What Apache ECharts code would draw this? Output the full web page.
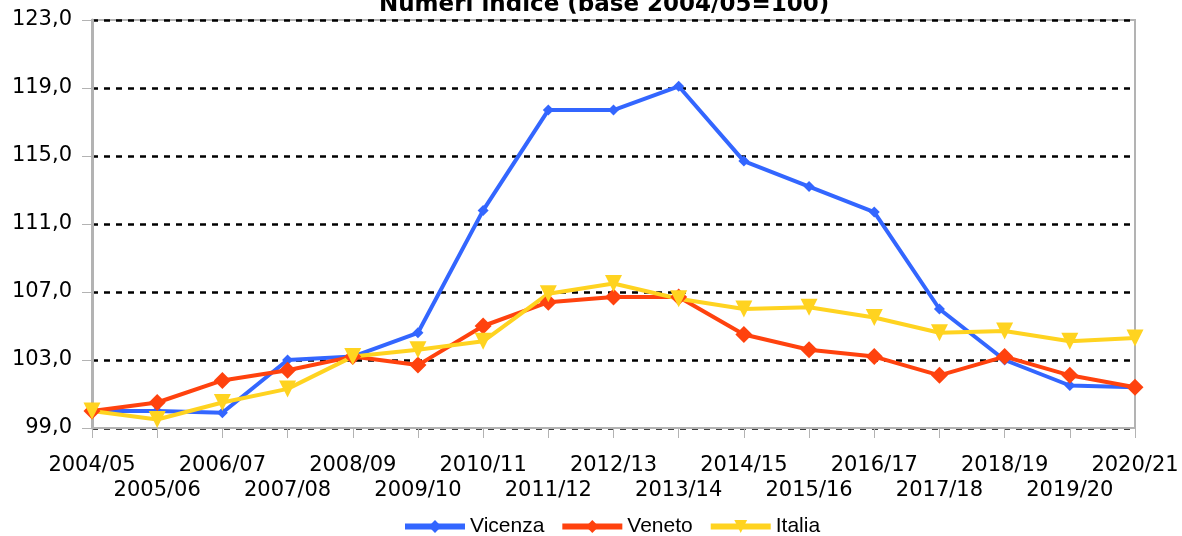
<!DOCTYPE html>
<html>
<head>
<meta charset="utf-8">
<script src="https://cdn.jsdelivr.net/npm/echarts@6/dist/echarts.min.js"></script>
<style>
  html, body { margin: 0; padding: 0; background: #fff; }
  #chart { width: 1182px; height: 536px; }
</style>
</head>
<body>
<div id="chart"></div>
<script>
  const categories = ['2004/05', '2005/06', '2006/07', '2007/08', '2008/09', '2009/10', '2010/11', '2011/12',
    '2012/13', '2013/14', '2014/15', '2015/16', '2016/17', '2017/18', '2018/19', '2019/20', '2020/21'];
  const vicenza = [100.0, 100.0, 99.9, 103.0, 103.2, 104.6, 111.8, 117.7, 117.7, 119.1, 114.7, 113.2, 111.7, 106.0, 103.0, 101.5, 101.4];
  const veneto = [100.0, 100.5, 101.8, 102.4, 103.2, 102.7, 105.0, 106.4, 106.7, 106.7, 104.5, 103.6, 103.2, 102.1, 103.2, 102.1, 101.4];
  const italia = [100.0, 99.5, 100.5, 101.3, 103.2, 103.6, 104.1, 106.9, 107.5, 106.6, 106.0, 106.1, 105.5, 104.6, 104.7, 104.1, 104.3];

  const chart = echarts.init(document.getElementById('chart'));

  function makeSeries(name, data, color, symbol, size, rotate) {
    return {
      name: name,
      type: 'line',
      data: data,
      symbol: symbol,
      symbolSize: size,
      symbolRotate: rotate,
      lineStyle: { width: 4, color: color },
      itemStyle: { color: color },
      emphasis: { disabled: true },
      animation: false
    };
  }

  chart.setOption({
    backgroundColor: '#ffffff',
    title: {
      text: 'Numeri indice (base 2004/05=100)',
      left: 374,
      top: -11,
      textStyle: { fontFamily: 'DejaVu Sans', fontWeight: 'bold', fontSize: 23, color: '#000' }
    },
    legend: {
      top: 511,
      left: 397,
      itemWidth: 60,
      itemHeight: 16,
      itemGap: 15,
      lineStyle: { width: 6 },
      textStyle: { fontFamily: 'Liberation Sans', fontSize: 21, color: '#000' },
      data: ['Vicenza', 'Veneto', 'Italia']
    },
    grid: {
      left: 92,
      right: 47,
      top: 20,
      bottom: 108,
      show: true,
      borderColor: '#b3b3b3',
      borderWidth: 2
    },
    xAxis: {
      type: 'category',
      boundaryGap: false,
      data: categories,
      axisLine: { lineStyle: { color: '#b3b3b3', width: 2 } },
      axisTick: { show: true, length: 10, interval: 0, lineStyle: { color: '#b3b3b3', width: 1 } },
      axisLabel: {
        interval: 0,
        margin: 25,
        fontFamily: 'DejaVu Sans',
        fontSize: 21,
        color: '#000',
        lineHeight: 25,
        formatter: function (v, i) { return i % 2 ? '\n' + v : v; }
      }
    },
    yAxis: {
      type: 'value',
      min: 99,
      max: 123,
      interval: 4,
      axisLine: { show: true, lineStyle: { color: '#b3b3b3', width: 3 } },
      axisTick: { show: true, length: 10, lineStyle: { color: '#b3b3b3', width: 1 } },
      axisLabel: {
        margin: 20,
        padding: [7, 0, 0, 0],
        fontFamily: 'DejaVu Sans',
        fontSize: 21,
        color: '#000',
        formatter: function (v) { return v.toFixed(1).replace('.', ','); }
      },
      splitLine: { lineStyle: { color: '#000', width: 2.5, type: [6, 6] } }
    },
    series: [
      makeSeries('Vicenza', vicenza, '#3366ff', 'diamond', 11, 0),
      makeSeries('Veneto', veneto, '#ff420e', 'diamond', 17, 0),
      makeSeries('Italia', italia, '#ffd320', 'triangle', 17, 180)
    ]
  });
</script>
</body>
</html>
